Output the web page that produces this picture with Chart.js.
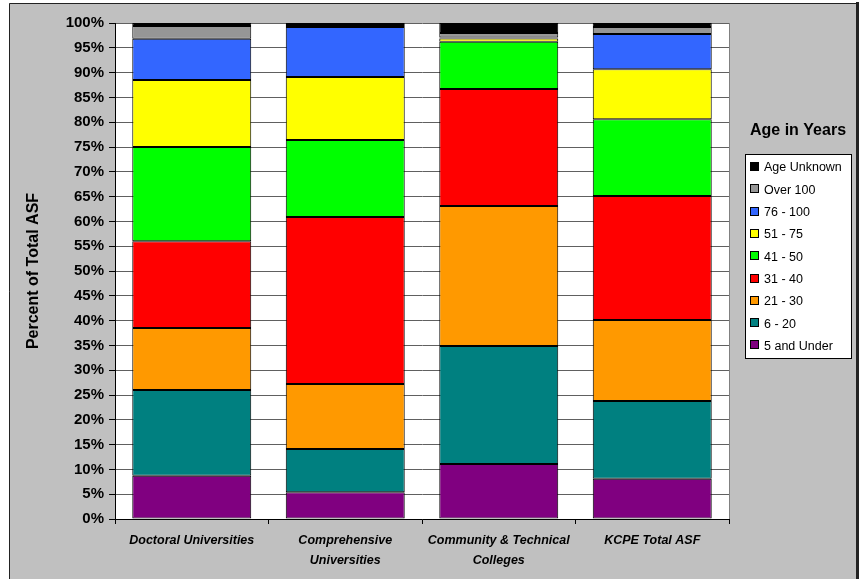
<!DOCTYPE html>
<html>
<head>
<meta charset="utf-8">
<script src="https://cdn.jsdelivr.net/npm/chart.js@4.4.0/dist/chart.umd.min.js"></script>
<style>
html,body{margin:0;padding:0;background:#fff;}
canvas{display:block;}
</style>
</head>
<body>
<canvas id="c" width="859" height="579"></canvas>
<script>
const categories = ["Doctoral Universities", ["Comprehensive", "Universities"], ["Community & Technical", "Colleges"], "KCPE Total ASF"];
const seriesNames = ["5 and Under", "6 - 20", "21 - 30", "31 - 40", "41 - 50", "51 - 75", "76 - 100", "Over 100", "Age Unknown"];
const seriesColors = ["#800080", "#008080", "#FF9900", "#FF0000", "#00FF00", "#FFFF00", "#3366FF", "#969696", "#000000"];
const under5   = [8.7, 5.4, 11.1, 8.1];
const age6to20 = [17.3, 8.7, 23.8, 15.7];
const age21to30 = [12.5, 13.1, 28.2, 16.3];
const age31to40 = [17.5, 33.7, 23.6, 25.0];
const age41to50 = [19.0, 15.5, 9.5, 15.5];
const age51to75 = [13.5, 12.7, 0.7, 10.1];
const age76to100 = [8.3, 10.1, 0.2, 7.1];
const over100 = [2.6, 0.4, 0.9, 1.4];
const ageUnknown = [0.6, 0.4, 2.0, 0.8];
const yTicks = [0,5,10,15,20,25,30,35,40,45,50,55,60,65,70,75,80,85,90,95,100];
const legendTitle = "Age in Years";
const yTitle = "Percent of Total ASF";

const seriesValues = [under5, age6to20, age21to30, age31to40, age41to50, age51to75, age76to100, over100, ageUnknown];
const FONT = "'Liberation Sans', Arial, sans-serif";

const framePlugin = {
  id: 'frame',
  beforeDraw(chart) {
    const ctx = chart.ctx;
    const a = chart.chartArea;
    ctx.save();
    ctx.fillStyle = '#ffffff';
    ctx.fillRect(0, 0, chart.width, chart.height);
    ctx.fillStyle = '#C0C0C0';
    ctx.fillRect(9, 3, 848, chart.height);
    ctx.strokeStyle = '#222';
    ctx.lineWidth = 1;
    ctx.beginPath();
    ctx.moveTo(9.5, chart.height);
    ctx.lineTo(9.5, 3.5);
    ctx.lineTo(856.5, 3.5);
    ctx.stroke();
    ctx.lineWidth = 3;
    ctx.beginPath();
    ctx.moveTo(857.5, 2);
    ctx.lineTo(857.5, chart.height);
    ctx.stroke();
    ctx.fillStyle = '#ffffff';
    ctx.fillRect(a.left, a.top, a.right - a.left, a.bottom - a.top);
    ctx.restore();
  },
  afterDraw(chart) {
    const ctx = chart.ctx;
    const a = chart.chartArea;
    ctx.save();
    ctx.strokeStyle = '#808080';
    ctx.lineWidth = 1;
    ctx.beginPath();
    ctx.moveTo(a.right + 0.5, a.top);
    ctx.lineTo(a.right + 0.5, a.bottom);
    ctx.stroke();
    // legend
    const lx = 745, ly = 154, lw = 106, lh = 204;
    ctx.fillStyle = '#000';
    ctx.font = "bold 16px " + FONT;
    ctx.textAlign = 'center';
    ctx.textBaseline = 'middle';
    ctx.fillText(legendTitle, 798, 131);
    ctx.fillStyle = '#fff';
    ctx.fillRect(lx, ly, lw, lh);
    ctx.strokeStyle = '#000';
    ctx.lineWidth = 1;
    ctx.strokeRect(lx + 0.5, ly + 0.5, lw, lh);
    ctx.font = "12.5px " + FONT;
    ctx.textAlign = 'left';
    const ds = chart.data.datasets;
    for (let i = 0; i < ds.length; i++) {
      const d = ds[ds.length - 1 - i];
      const y = 167 + i * 22.3;
      ctx.fillStyle = d.backgroundColor;
      ctx.fillRect(750, Math.round(y - 5), 9, 9);
      ctx.strokeStyle = '#000';
      ctx.strokeRect(750.5, Math.round(y - 5) + 0.5, 8, 8);
      ctx.fillStyle = '#000';
      ctx.fillText(d.label, 764, y + 1);
    }
    ctx.restore();
  }
};

new Chart(document.getElementById('c'), {
  type: 'bar',
  data: {
    labels: categories,
    datasets: seriesNames.map((n, i) => ({
      label: n,
      data: seriesValues[i],
      backgroundColor: seriesColors[i],
      borderColor: '#000000',
      borderWidth: 1,
      borderSkipped: false,
      categoryPercentage: 1.0,
      barPercentage: 0.775
    }))
  },
  options: {
    responsive: false,
    animation: false,
    layout: { padding: { left: 0, right: 130, top: 23, bottom: 0 } },
    plugins: { legend: { display: false }, tooltip: { enabled: false } },
    scales: {
      x: {
        stacked: true,
        afterFit(s) { s.height = 60; },
        grid: { display: true, drawOnChartArea: false, drawTicks: true, tickLength: 5, tickColor: '#000', offset: true },
        border: { display: true, color: '#000', width: 1 },
        ticks: {
          color: '#000',
          padding: 7,
          maxRotation: 0,
          autoSkip: false,
          font: { family: FONT, size: 12.5, weight: 'bold', style: 'italic', lineHeight: '20px' }
        }
      },
      y: {
        stacked: true,
        min: 0,
        max: 100,
        afterFit(s) { s.width = 115; },
        afterBuildTicks(s) { s.ticks = yTicks.map(v => ({ value: v })); },
        grid: { color: '#606060', lineWidth: 1, tickLength: 6, tickColor: '#000', drawTicks: true },
        border: { display: true, color: '#000', width: 1 },
        ticks: {
          color: '#000',
          padding: 5,
          font: { family: FONT, size: 15, weight: 'bold' },
          callback: v => v + '%'
        },
        title: {
          display: true,
          text: yTitle,
          color: '#000',
          padding: { top: 24, bottom: 0 },
          font: { family: FONT, size: 16, weight: 'bold' }
        }
      }
    }
  },
  plugins: [framePlugin]
});
</script>
</body>
</html>
